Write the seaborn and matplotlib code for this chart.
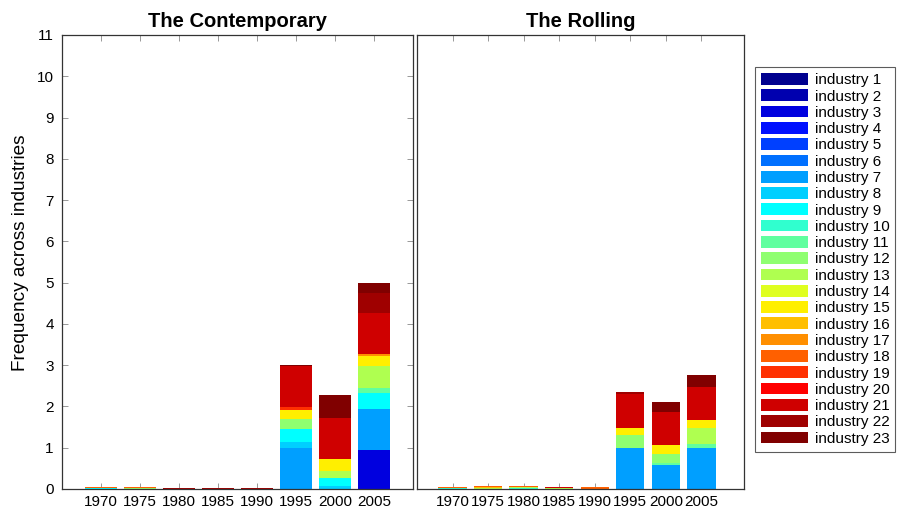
import numpy as np
import pandas as pd
import matplotlib
matplotlib.use("Agg")
import matplotlib.pyplot as plt
from matplotlib.patches import Patch
import seaborn as sns

years = ["1970", "1975", "1980", "1985", "1990", "1995", "2000", "2005"]
industries = [f"industry {i}" for i in range(1, 24)]
panel_titles = ["The Contemporary", "The Rolling"]

# industry number -> frequency per year (1970 ... 2005)
contemporary = {
    3:  [0, 0, 0, 0, 0, 0, 0, 0.95],
    7:  [0, 0, 0, 0, 0, 1.00, 0, 1.00],
    8:  [0, 0, 0, 0, 0, 0.13, 0.07, 0],
    9:  [0.02, 0, 0, 0, 0, 0.32, 0.19, 0.37],
    11: [0, 0, 0, 0, 0, 0, 0, 0.12],
    12: [0, 0.02, 0, 0, 0, 0.25, 0, 0],
    13: [0, 0, 0, 0, 0, 0, 0.17, 0.53],
    15: [0, 0, 0, 0, 0, 0.21, 0.30, 0.25],
    17: [0, 0, 0, 0, 0, 0, 0, 0.06],
    18: [0.03, 0.03, 0, 0, 0, 0, 0, 0],
    19: [0, 0, 0, 0, 0, 0.08, 0, 0],
    21: [0, 0, 0, 0, 0, 0.99, 1.00, 0.99],
    22: [0, 0, 0.02, 0.02, 0.02, 0, 0, 0.48],
    23: [0, 0, 0, 0, 0, 0.02, 0.55, 0.25],
}
rolling = {
    7:  [0, 0, 0, 0, 0, 1.00, 0.59, 1.00],
    9:  [0, 0.01, 0, 0, 0, 0, 0, 0],
    10: [0.02, 0, 0.02, 0.01, 0, 0, 0, 0],
    11: [0, 0, 0, 0, 0, 0, 0.03, 0.08],
    12: [0, 0, 0, 0, 0, 0.30, 0.24, 0],
    13: [0, 0.01, 0.02, 0.01, 0, 0, 0, 0.40],
    15: [0, 0, 0.02, 0.01, 0, 0.17, 0.20, 0.18],
    16: [0, 0.02, 0, 0, 0, 0, 0, 0],
    18: [0.03, 0.04, 0.02, 0, 0.04, 0, 0, 0],
    21: [0, 0, 0, 0.03, 0.01, 0.84, 0.81, 0.82],
    22: [0, 0, 0, 0, 0, 0.05, 0, 0],
    23: [0, 0, 0, 0, 0, 0, 0.25, 0.29],
}


def matlab_jet(m):
    n = int(np.ceil(m / 4))
    u = np.concatenate([np.arange(1, n + 1) / n, np.ones(n - 1), np.arange(n, 0, -1) / n])
    g = int(np.ceil(n / 2)) - (1 if m % 4 == 1 else 0) + np.arange(1, len(u) + 1)
    r = g + n
    b = g - n
    J = np.zeros((m, 3))
    for ch, idx in ((0, r), (1, g), (2, b)):
        mask = (idx >= 1) & (idx <= m)
        J[idx[mask] - 1, ch] = u[mask]
    return J


jet64 = matlab_jet(64)
colors = [jet64[min(int((k - 1) / 22 * 64), 63)] for k in range(1, 24)]

sns.set_style("white")
plt.rcParams["font.family"] = ["Liberation Sans", "DejaVu Sans"]
plt.rcParams["text.color"] = "black"
plt.rcParams["axes.labelcolor"] = "black"
plt.rcParams["xtick.labelcolor"] = "black"
plt.rcParams["ytick.labelcolor"] = "black"

fig = plt.figure(figsize=(8.99, 5.08), dpi=100)
ax1 = fig.add_axes([62 / 899, 1 - 489 / 508, (413 - 62) / 899, (489 - 35) / 508])
ax2 = fig.add_axes([417 / 899, 1 - 489 / 508, (744 - 417) / 899, (489 - 35) / 508])

pos = np.arange(1, len(years) + 1)

for ax, data, title, xmax in [(ax1, contemporary, panel_titles[0], 9.0),
                              (ax2, rolling, panel_titles[1], 9.2)]:
    bottom = np.zeros(len(years))
    for ind in range(1, 24):
        if ind not in data:
            continue
        vals = np.array(data[ind], dtype=float)
        df = pd.DataFrame({"x": pos, "y": vals})
        sns.barplot(data=df, x="x", y="y", bottom=bottom, color=colors[ind - 1],
                    native_scale=True, width=0.8, saturation=1, errorbar=None,
                    linewidth=0, ax=ax)
        bottom = bottom + vals
    ax.set_xlim(0, xmax)
    ax.set_ylim(0, 11)
    ax.set_xticks(pos)
    ax.set_xticklabels(years, fontsize=11)
    ax.set_yticks(range(0, 12))
    ax.set_xlabel("")
    ax.set_ylabel("")
    ax.set_title(title, fontsize=14.5, fontweight="bold", pad=6, color="black")
    ax.tick_params(direction="in", length=4, width=0.6, color="#888888", labelcolor="black",
                   top=True, right=True, bottom=True, left=True)
    ax.tick_params(axis="x", pad=4)
    ax.tick_params(axis="y", pad=6)
    for sp in ax.spines.values():
        sp.set_color("#333333")
        sp.set_linewidth(0.9)

ax1.set_yticklabels([str(v) for v in range(0, 12)], fontsize=11)
ax2.set_yticklabels([])
ax2.tick_params(left=False, right=False)
ax1.set_ylabel("Frequency across industries", fontsize=13.7, color="black")
ax1.yaxis.set_label_coords(-0.094, 0.52)

handles = [Patch(facecolor=colors[i], edgecolor="none", label=industries[i]) for i in range(23)]
leg = fig.legend(handles=handles, loc="upper left", bbox_to_anchor=(755 / 899, 1 - 67 / 508),
                 frameon=True, fancybox=False, fontsize=11, handlelength=3.1, handleheight=0.8,
                 handletextpad=0.4, labelspacing=0.14, borderpad=0.4, borderaxespad=0)
leg.get_frame().set_edgecolor("#333333")
leg.get_frame().set_linewidth(0.8)

fig.savefig("out.png", dpi=100)
